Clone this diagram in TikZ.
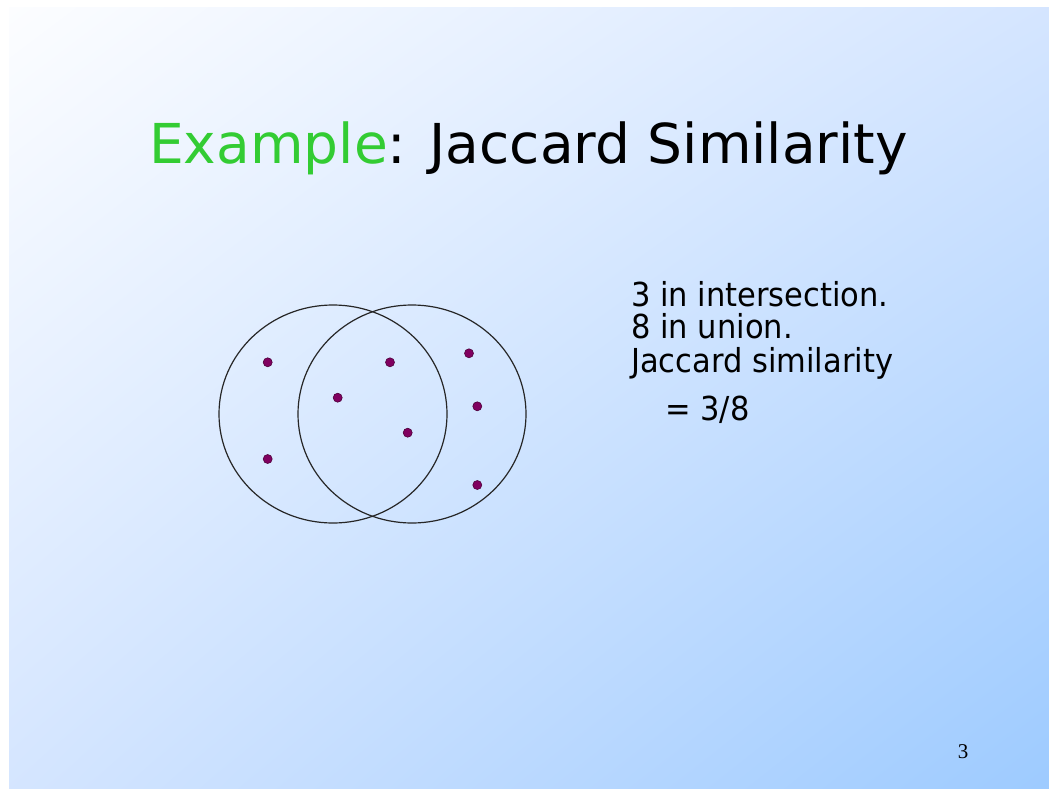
\documentclass[tikz,border=0pt]{standalone}
\usepackage{fontspec}
\setmainfont{DejaVu Sans}
\newfontfamily\bodyfont[FakeStretch=0.925]{DejaVu Sans}
\newfontfamily\pagefont{Liberation Serif}
\usetikzlibrary{shapes.geometric,shadings}
\definecolor{titlegreen}{RGB}{51,204,51}
\definecolor{dotpurple}{RGB}{128,0,96}
\definecolor{bgtl}{RGB}{252,253,255}
\definecolor{bgtr}{RGB}{212,229,255}
\definecolor{bgbl}{RGB}{212,229,255}
\definecolor{bgbr}{RGB}{156,202,255}

\begin{document}
\begin{tikzpicture}[x=1pt,y=-1pt,
  setring/.style={draw=black!85,line width=1.2pt,ellipse,minimum width=228pt,minimum height=218pt},
  dot/.style={circle,fill=dotpurple,draw=dotpurple!60!black,line width=0.6pt,inner sep=0pt,minimum size=9pt},
  line/.style={anchor=base west,inner sep=0pt,font=\bodyfont\fontsize{33}{36}\selectfont}]
\useasboundingbox (0,0) rectangle (1049,789);
\fill[white] (-5,-5) rectangle (1060,800);
\shade[upper left=bgtl,upper right=bgtr,lower left=bgbl,lower right=bgbr] (9,8) rectangle (1060,800);

\node[anchor=base west,inner sep=0pt] (title) at (149,163)
  {\fontsize{55}{60}\selectfont\textcolor{titlegreen}{Example}: Jaccard Similarity};

% two sets
\node[setring] (setA) at (333,414) {};
\node[setring] (setB) at (412,414) {};

\node[dot] (a1) at (267.7,362.3) {};
\node[dot] (a2) at (267.7,459) {};
\node[dot] (c1) at (390,362.3) {};
\node[dot] (c2) at (337.7,397.7) {};
\node[dot] (c3) at (407.7,432.7) {};
\node[dot] (b1) at (469,353.3) {};
\node[dot] (b2) at (477.3,406.3) {};
\node[dot] (b3) at (477.3,485) {};

\node[line] (l1) at (631,306) {3 in intersection.};
\node[line] (l2) at (631,338) {8 in union.};
\node[line] (l3) at (631,372) {Jaccard similarity};
\node[line] (l4) at (665,420) {= 3/8};

\node[anchor=base,inner sep=0pt] (pagenum) at (963,758) {\pagefont\fontsize{21}{24}\selectfont 3};
\end{tikzpicture}
\end{document}
